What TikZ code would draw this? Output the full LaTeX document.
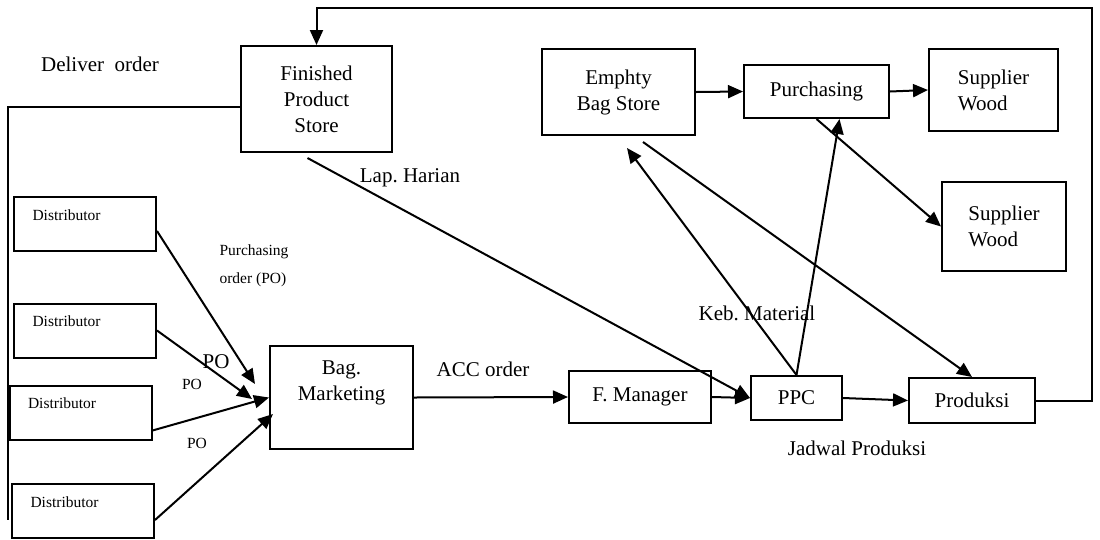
\documentclass[tikz,border=0pt]{standalone}
\usepackage{fontspec}
\setmainfont{Liberation Serif}
\usetikzlibrary{arrows.meta}
\frenchspacing

\begin{document}
\begin{tikzpicture}[x=1pt, y=-1pt, font=\fontsize{21}{26}\selectfont,
        box/.style={draw, line width=2pt, inner sep=0pt, align=center},
        small/.style={font=\fontsize{15.5}{18}\selectfont},
        distbox/.style={draw, line width=2pt, minimum width=142pt, minimum height=54pt,
            label={[small, anchor=west, xshift=16pt, yshift=-19pt]north west:Distributor}},
        line/.style={line width=2pt},
        arr/.style={line width=2pt, -{Triangle[length=15pt, width=13pt]}}]
    \useasboundingbox (0,0) rectangle (1100,539);

    % Stores and purchasing
    \node[box, minimum width=151pt, minimum height=106pt] (fps) at (316.5,99) {Finished\\Product\\Store};
    \node[box, minimum width=153pt, minimum height=86pt] (ebs) at (618.5,92) {Emphty\\Bag Store};
    \node[box, minimum width=145pt, minimum height=53pt] (purch) at (816.5,91.5) {Purchasing};
    \node[box, align=left, minimum width=129pt, minimum height=82pt] (sw1) at (993.5,90) {Supplier\\Wood};
    \node[box, align=left, minimum width=124pt, minimum height=89pt] (sw2) at (1004,226.5) {Supplier\\Wood};

    % Distributors
    \node[distbox] (d1) at (85,224) {};
    \node[distbox] (d2) at (85,330.5) {};
    \node[distbox] (d3) at (80.5,412.5) {};
    \node[distbox] (d4) at (83,511) {};

    % Order flow
    \node[box, minimum width=143pt, minimum height=103pt] (mkt) at (341.5,397.5) {Bag.\\Marketing\\[8pt]\mbox{}};
    \node[box, minimum width=142pt, minimum height=52pt] (fm) at (640,397) {F. Manager};
    \node[box, minimum width=91pt, minimum height=44pt] (ppc) at (796.5,398) {PPC};
    \node[box, minimum width=126pt, minimum height=45pt] (prod) at (972,400.5) {Produksi};

    % Free ends
    \coordinate (lt) at (8,107);
    \coordinate (lb) at (8,520);
    \coordinate (tr) at (1092,8);
    \coordinate (po1) at (255,384);
    \coordinate (po2) at (252,399);
    \coordinate (po4) at (273,414);
    \coordinate (keb) at (627,148);
    \coordinate (ebsout) at (643,142);

    % Deliver order line and return loop
    \draw[line] (fps.west |- lt) -- (lt) -- (lb);
    \draw[arr] (prod.east) -| (tr) -| (fps.north);

    % Purchasing orders
    \draw[arr] ([yshift=-7pt]d1.east) -- (po1);
    \draw[arr] (d2.east) -- (po2);
    \draw[arr] ([yshift=-18pt]d3.east) -- (mkt.west);
    \draw[arr] ([yshift=-9pt]d4.east) -- (po4);

    \draw[arr] (mkt.east) -- (fm.west);
    \draw[arr] (fm.east) -- (ppc.west);
    \draw[arr] ([xshift=-9pt, yshift=-5pt]fps.south) -- (ppc.west);
    \draw[arr] (ppc.north) -- (keb);
    \draw[arr] (ppc.north) -- ([xshift=23pt]purch.south);
    \draw[arr] (ebsout) -- (prod.north);
    \draw[arr] (purch.south) -- (sw2.west);
    \draw[arr] (ebs.east) -- (purch.west);
    \draw[arr] (purch.east) -- (sw1.west);
    \draw[arr] (ppc.east) -- (prod.west);

    % Labels
    \node (lDeliver) at (100,64) {Deliver\ \ order};
    \node (lLap) at (410,178) {Lap. Harian};
    \node[small, align=left, anchor=west] (lPurch) at (216,266) {Purchasing\\[10pt]order (PO)};
    \node (lPObig) at (216,362) {PO};
    \node[small] (lPO1) at (192,384) {PO};
    \node[small] (lPO2) at (197,443) {PO};
    \node (lAcc) at (483,369) {ACC order};
    \node (lKeb) at (757,313) {Keb. Material};
    \node (lJadwal) at (857,448) {Jadwal Produksi};
\end{tikzpicture}
\end{document}
